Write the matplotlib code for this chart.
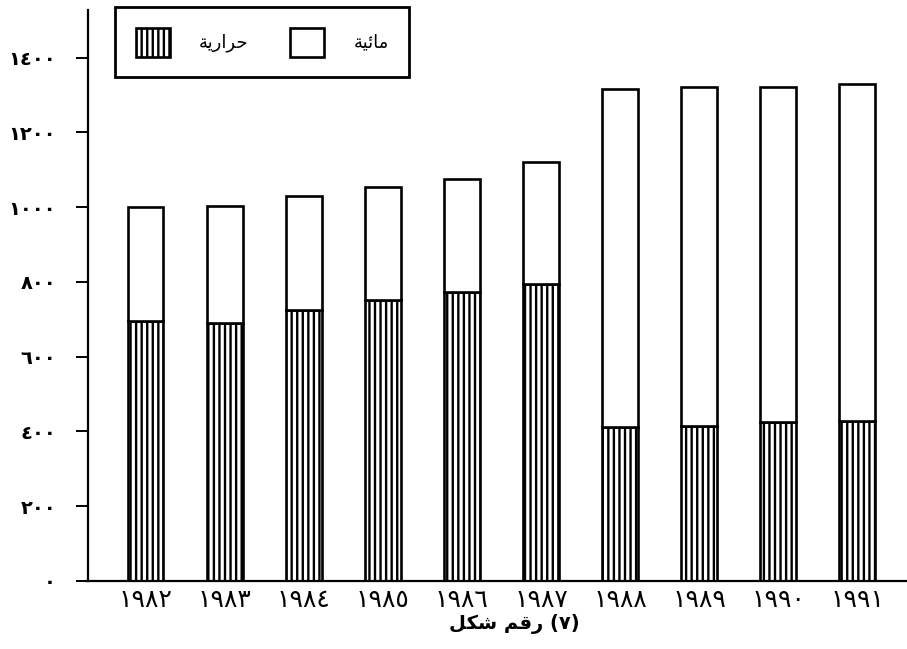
import matplotlib
matplotlib.use("Agg")
import matplotlib.pyplot as plt
import numpy as np

# years and values (MW)
years = ["١٩٨٢", "١٩٨٣", "١٩٨٤", "١٩٨٥", "١٩٨٦", "١٩٨٧", "١٩٨٨", "١٩٨٩", "١٩٩٠", "١٩٩١"]
thermal = [695, 690, 725, 752, 773, 795, 412, 415, 425, 428]
total = [1000, 1003, 1030, 1055, 1076, 1121, 1317, 1320, 1322, 1328]
hydro = [t - th for t, th in zip(total, thermal)]

y_ticks = [0, 200, 400, 600, 800, 1000, 1200, 1400]
y_tick_labels = ["٠", "٢٠٠", "٤٠٠", "٦٠٠", "٨٠٠", "١٠٠٠", "١٢٠٠", "١٤٠٠"]

# Arabic labels pre-shaped (presentation forms, visual order)
label_hydro = "\ufe94\ufef4\ufe8b\ufe8e\ufee3"          # مائية
label_thermal = "\ufe94\ufef3\ufead\ufe8d\ufeae\ufea3"  # حرارية
caption = "\ufede\ufedc\ufeb7 \ufee2\ufed7\ufead (٧)"   # شكل رقم (٧)

plt.rcParams["font.family"] = ["DejaVu Sans"]
plt.rcParams["hatch.linewidth"] = 1.7
plt.rcParams["hatch.color"] = "black"

fig = plt.figure(figsize=(9.07, 6.49), dpi=100)
ax = fig.add_axes([0.097, 0.105, 0.903, 0.88])

x = np.arange(len(years))
w = 0.45
ax.bar(x, thermal, width=w, color="white", edgecolor="black", linewidth=1.9,
       hatch="|||", label=label_thermal)
ax.bar(x, hydro, width=w, bottom=thermal, color="white", edgecolor="black",
       linewidth=1.9, label=label_hydro)

ax.set_xlim(-0.73, 9.63)
ax.set_ylim(0, 1528)

for s in ["top", "right"]:
    ax.spines[s].set_visible(False)
ax.spines["left"].set_linewidth(1.6)
ax.spines["bottom"].set_linewidth(1.6)
ax.spines["bottom"].set_bounds(-0.75, 9.63)

ax.set_yticks(y_ticks)
ax.set_yticklabels(y_tick_labels, fontsize=14, fontweight="bold")
ax.tick_params(axis="y", direction="out", length=9, width=1.4, pad=14)
ax.set_xticks(x)
ax.set_xticklabels(years, fontsize=18)
ax.tick_params(axis="x", length=0, pad=5)

ax.set_xlabel(caption, fontsize=14, fontweight="bold")
ax.xaxis.set_label_coords(0.521, -0.058)

leg = ax.legend(loc="upper left", bbox_to_anchor=(0.033, 1.005), ncol=2,
                fontsize=13, frameon=True, fancybox=False, edgecolor="black",
                handlelength=1.9, handleheight=2.1, columnspacing=2.3,
                handletextpad=1.6, borderpad=1.15, borderaxespad=0)
leg.get_frame().set_linewidth(2)
leg.get_frame().set_alpha(1)

fig.savefig("out.png", dpi=100)
